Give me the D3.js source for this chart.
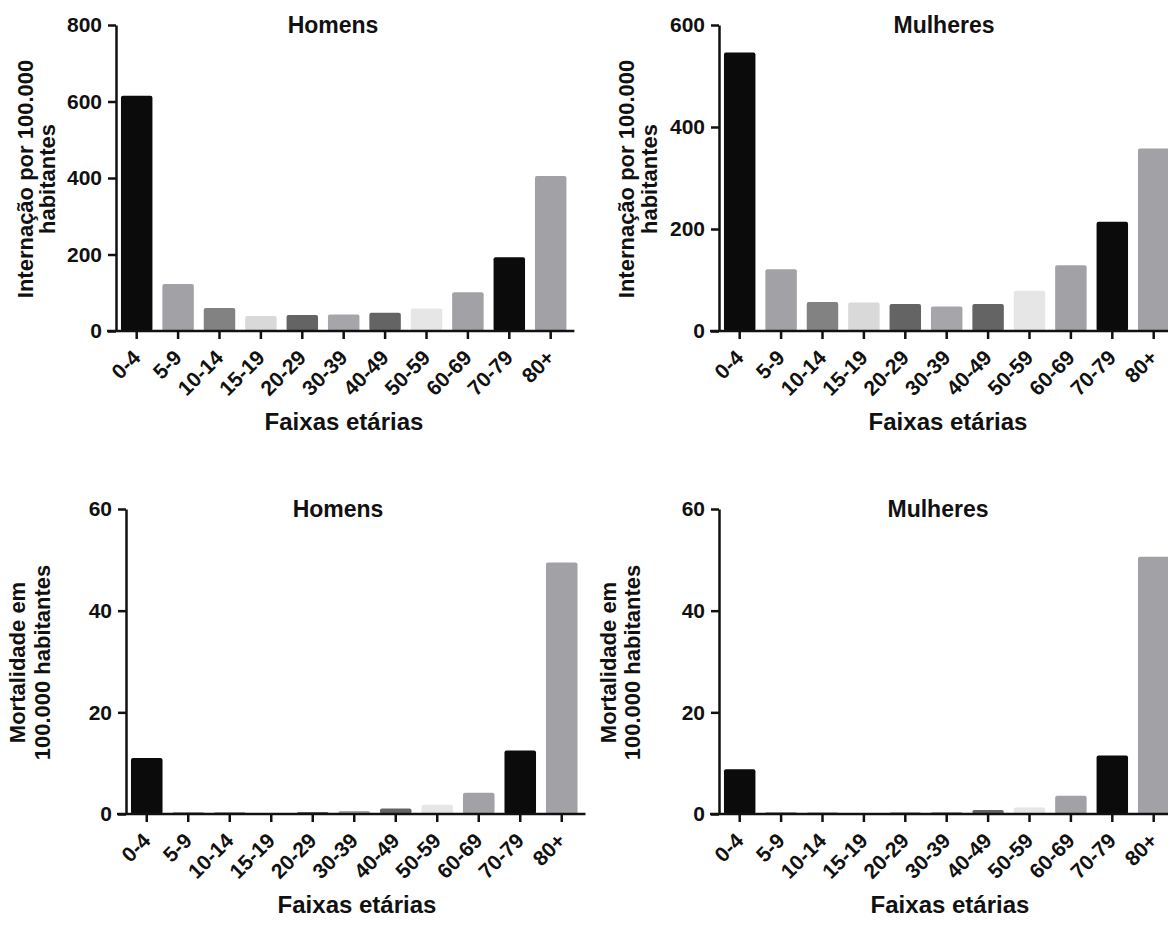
<!DOCTYPE html>
<html>
<head>
<meta charset="utf-8">
<script src="https://cdn.jsdelivr.net/npm/d3@7"></script>
<style>
  body { margin: 0; background: #fff; overflow: hidden; }
  svg text { font-family: "Liberation Sans", Arial, Helvetica, sans-serif; font-weight: bold; fill: #111; }
  .axis path, .axis line { stroke: #111; stroke-width: 2.5; }
</style>
</head>
<body>
<svg id="chart" width="1168" height="926"></svg>
<script>
// age groups and bar fills (same in every panel)
const ageGroups = ['0-4', '5-9', '10-14', '15-19', '20-29', '30-39', '40-49', '50-59', '60-69', '70-79', '80+']
const barColors = ['#0b0b0b', '#a2a2a6', '#828282', '#d9d9d9', '#646464', '#a6a6aa', '#646464', '#e6e6e6', '#a2a2a6', '#0b0b0b', '#a2a2a6']

// internação por 100.000 habitantes
const internHomens = [615, 123, 60, 39, 42, 43, 48, 59, 101, 193, 405]
const internMulheres = [546, 121, 57, 56, 53, 48, 53, 79, 129, 214, 358]
// mortalidade em 100.000 habitantes
const mortHomens = [11.0, 0.4, 0.35, 0.2, 0.4, 0.6, 1.1, 1.8, 4.2, 12.5, 49.5]
const mortMulheres = [8.8, 0.4, 0.3, 0.2, 0.3, 0.4, 0.8, 1.3, 3.6, 11.5, 50.6]

const ticksHomensIntern = [0, 200, 400, 600, 800]
const ticksMulheresIntern = [0, 200, 400, 600]
const ticksMort = [0, 20, 40, 60]

const xTitle = 'Faixas etárias'

let panels = [
    {values: internHomens, ticks: ticksHomensIntern, title: 'Homens',
     ylab: ['Internação por 100.000', 'habitantes'],
     left: 116, right: 571.4, top: 25, bottom: 331, titleX: 333, labX: [33, 55], xTitleX: 344},
    {values: internMulheres, ticks: ticksMulheresIntern, title: 'Mulheres',
     ylab: ['Internação por 100.000', 'habitantes'],
     left: 719, right: 1174.4, top: 25, bottom: 331, titleX: 944, labX: [634, 657], xTitleX: 948},
    {values: mortHomens, ticks: ticksMort, title: 'Homens',
     ylab: ['Mortalidade em', '100.000 habitantes'],
     left: 126, right: 582.5, top: 509, bottom: 814, titleX: 338, labX: [25, 50], xTitleX: 357},
    {values: mortMulheres, ticks: ticksMort, title: 'Mulheres',
     ylab: ['Mortalidade em', '100.000 habitantes'],
     left: 719, right: 1174.4, top: 509, bottom: 814, titleX: 938, labX: [616, 640], xTitleX: 950}
]

let svg = d3.select('#chart')

function drawPanel(p) {
    let g = svg.append('g')

    let x = d3.scaleBand().domain(ageGroups)
        .range([p.left, p.right])
        .paddingInner(0.24)
        .paddingOuter(0.12)
    let y = d3.scaleLinear().domain([0, d3.max(p.ticks)]).range([p.bottom, p.top])

    // bars
    g.selectAll('rect.bar')
        .data(p.values)
        .enter().append('rect')
        .attr('class', 'bar')
        .attr('x', (d, i) => x(ageGroups[i]))
        .attr('y', d => y(d))
        .attr('width', x.bandwidth())
        .attr('height', d => p.bottom - y(d))
        .attr('rx', 2)
        .style('fill', (d, i) => barColors[i])

    // y axis
    g.append('g')
        .attr('class', 'axis')
        .attr('transform', `translate(${p.left},0)`)
        .call(d3.axisLeft(y).tickValues(p.ticks).tickSize(8).tickSizeOuter(0).tickPadding(6).tickFormat(d3.format('d')))
        .call(a => a.selectAll('text').style('font-size', '21px'))

    // x axis
    g.append('g')
        .attr('class', 'axis')
        .attr('transform', `translate(0,${p.bottom})`)
        .call(d3.axisBottom(x).tickSize(8).tickSizeOuter(0))
        .call(a => a.select('.domain').attr('d', `M${p.left - 9},0H${p.right + 3}`))
        .call(a => a.selectAll('text')
            .attr('x', 0).attr('y', 0).attr('dy', 0)
            .attr('text-anchor', 'end')
            .attr('transform', 'translate(5,28) rotate(-45)')
            .style('font-size', '21px'))

    // panel title
    g.append('text')
        .attr('x', p.titleX)
        .attr('y', p.top + 8)
        .attr('text-anchor', 'middle')
        .style('font-size', '23px')
        .text(p.title)

    // x title
    g.append('text')
        .attr('x', p.xTitleX)
        .attr('y', p.bottom + 99)
        .attr('text-anchor', 'middle')
        .style('font-size', '24px')
        .text(xTitle)

    // y title, two lines
    let cy = (p.top + p.bottom) / 2 + 1
    p.ylab.forEach((line, i) => {
        g.append('text')
            .attr('transform', `translate(${p.labX[i]},${cy}) rotate(-90)`)
            .attr('text-anchor', 'middle')
            .style('font-size', '22px')
            .text(line)
    })
}

panels.forEach(drawPanel)
</script>
</body>
</html>
